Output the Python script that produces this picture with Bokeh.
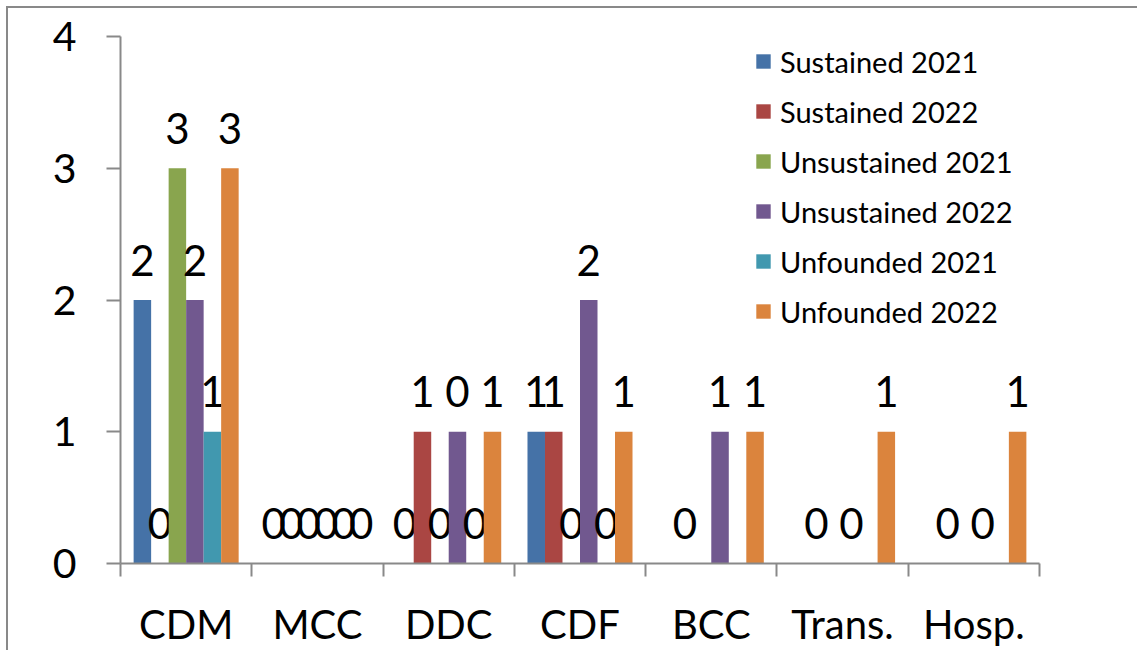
from bokeh.plotting import figure
from bokeh.models import ColumnDataSource, Range1d, FixedTicker, Legend, LegendItem, Spacer
from bokeh.layouts import column, row
from bokeh.transform import dodge
from bokeh.embed import file_html
from bokeh.resources import INLINE
from bokeh.core.properties import value

categories = ["CDM", "MCC", "DDC", "CDF", "BCC", "Trans.", "Hosp."]
series_names = ["Sustained 2021", "Sustained 2022", "Unsustained 2021",
                "Unsustained 2022", "Unfounded 2021", "Unfounded 2022"]
sustained_2021 = [2, 0, 0, 1, None, None, None]
sustained_2022 = [0, 0, 1, 1, 0, 0, 0]
unsustained_2021 = [3, 0, 0, 0, None, None, None]
unsustained_2022 = [2, 0, 1, 2, 1, 0, 0]
unfounded_2021 = [1, 0, 0, 0, None, None, None]
unfounded_2022 = [3, 0, 1, 1, 1, 1, 1]
# data label as printed in the original chart
label_overrides = {("DDC", "Unsustained 2022"): "0"}
y_ticks = [0, 1, 2, 3, 4]

series_values = [sustained_2021, sustained_2022, unsustained_2021,
                 unsustained_2022, unfounded_2021, unfounded_2022]
colors = ["#4572A7", "#AA4643", "#89A54E", "#71588F", "#4198AF", "#DB843D"]

FONT = "Lato"
AXIS_COLOR = "#898989"

p = figure(width=1129, height=642, x_range=Range1d(0, len(categories)),
           y_range=Range1d(0, 4), output_backend="svg", toolbar_location=None,
           min_border_left=112, min_border_right=98, min_border_top=28,
           min_border_bottom=87)
p.grid.visible = False
p.outline_line_color = None
p.background_fill_color = "white"
p.border_fill_color = "white"

n_series = len(series_names)
slot = 1.0 / (n_series + 1.5)
positions = [i + 0.5 for i in range(len(categories))]

renderers = []
for j, (name, vals, col) in enumerate(zip(series_names, series_values, colors)):
    off = (j - (n_series - 1) / 2) * slot
    tops = [float("nan") if v is None else v for v in vals]
    labels = []
    for cat, v in zip(categories, vals):
        if v is None:
            labels.append("")
        else:
            labels.append(label_overrides.get((cat, name), str(v)))
    src = ColumnDataSource(dict(pos=positions, top=tops,
                                ly=[0 if v is None else v for v in vals],
                                lbl=labels))
    r = p.vbar(x=dodge("pos", off), top="top", bottom=0, width=slot,
               source=src, fill_color=col, line_color=None)
    renderers.append(r)
    p.text(x=dodge("pos", off), y="ly", text="lbl", source=src,
           text_font=value(FONT), text_font_size="42px", text_color="black",
           text_align="center", text_baseline="alphabetic", y_offset=-40)

# y axis
yax = p.yaxis[0]
yax.ticker = FixedTicker(ticks=y_ticks, minor_ticks=[])
yax.axis_line_color = AXIS_COLOR
yax.axis_line_width = 2
yax.major_tick_line_color = AXIS_COLOR
yax.major_tick_line_width = 2
yax.major_tick_in = 0
yax.major_tick_out = 14
yax.minor_tick_line_color = None
yax.major_label_text_font = FONT
yax.major_label_text_font_size = "41px"
yax.major_label_text_color = "black"
yax.major_label_standoff = 30

# x axis
xax = p.xaxis[0]
xax.ticker = FixedTicker(ticks=positions, minor_ticks=list(range(len(categories) + 1)))
xax.major_label_overrides = {pos: cat for pos, cat in zip(positions, categories)}
xax.axis_line_color = AXIS_COLOR
xax.axis_line_width = 2
xax.major_tick_line_color = None
xax.major_tick_in = 0
xax.major_tick_out = 0
xax.minor_tick_line_color = AXIS_COLOR
xax.minor_tick_line_width = 2
xax.minor_tick_in = 0
xax.minor_tick_out = 13
xax.major_label_text_font = FONT
xax.major_label_text_font_size = "40px"
xax.major_label_text_color = "black"
xax.major_label_standoff = 23

legend = Legend(items=[LegendItem(label=n, renderers=[r]) for n, r in zip(series_names, renderers)],
                location=(634, 234), orientation="vertical")
legend.border_line_color = None
legend.background_fill_alpha = 0
legend.padding = 0
legend.margin = 0
legend.spacing = 14
legend.glyph_width = 18
legend.glyph_height = 18
legend.label_height = 36
legend.label_standoff = 8
legend.label_text_font = FONT
legend.label_text_font_size = "29px"
legend.label_text_color = "black"
p.add_layout(legend)

# chart-area frame (left and top edges visible in the original)
frame_top = Spacer(width=1131, height=2, styles={"background-color": AXIS_COLOR})
frame_left = Spacer(width=2, height=642, styles={"background-color": AXIS_COLOR})
layout = column(Spacer(width=1137, height=6),
                row(Spacer(width=6, height=644),
                    column(frame_top, row(frame_left, p))))

open("out.html", "w").write(file_html(layout, INLINE))
